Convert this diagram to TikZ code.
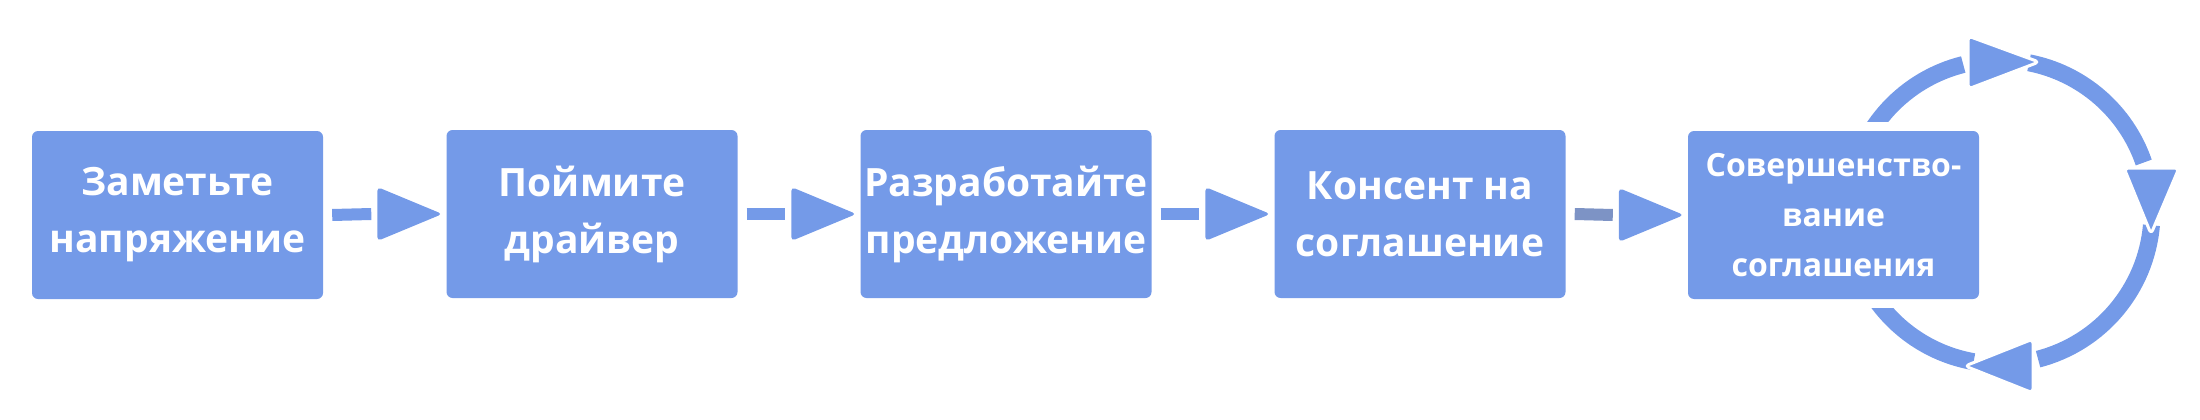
\documentclass[tikz,border=0pt]{standalone}
\usepackage{fontspec}
\setmainfont{Open Sans}
\usetikzlibrary{backgrounds,calc}
\definecolor{boxblue}{RGB}{116,154,232}
\definecolor{linegray}{RGB}{125,147,197}
\tikzset{
  stepbox/.style={fill=boxblue, rounded corners=6pt, minimum width=291pt,
    minimum height=168pt, inner sep=0pt, text=white, align=center,
    font=\bfseries\fontsize{39}{57}\selectfont},
  smallbox/.style={stepbox, font=\bfseries\fontsize{32}{50}\selectfont},
  connline/.style={draw=boxblue, line width=12pt},
  conntip/.style={fill=boxblue, rounded corners=4pt},
  ring/.style={draw=boxblue, line width=17pt},
  ringtip/.style={fill=boxblue, draw=white, line width=3pt, rounded corners=4pt, line join=round},
}
\begin{document}
\begin{tikzpicture}[x=1pt,y=-1pt]
\useasboundingbox (0,0) rectangle (2200,420);
\node[stepbox] (b1) at (177.5,215) {Заметьте\\напряжение};
\node[stepbox] (b2) at (592,214) {Поймите\\драйвер};
\node[stepbox] (b3) at (1006,214) {Разработайте\\предложение};
\node[stepbox] (b4) at (1420,214) {Консент на\\соглашение};
\node[smallbox] (b5) at (1833.5,215) {Совершенство-\\вание\\соглашения};
% straight connectors
\foreach \a/\b/\c in {b1/b2/boxblue,b2/b3/boxblue,b3/b4/boxblue,b4/b5/linegray}{
  \draw[connline, draw=\c] ([xshift=9pt]\a.east) -- ([xshift=-75pt]\b.west);
  \fill[conntip] ([xshift=-69pt,yshift=27pt]\b.west) -- ([xshift=-69pt,yshift=-27pt]\b.west)
     -- ([xshift=-4pt]\b.west) -- cycle;
}
% cycle around last box
\coordinate (cc) at (2000,212);
\begin{pgfonlayer}{background}
  \draw[ring] ($(cc)+(-79:152)$) arc[start angle=-79, end angle=-19, radius=152];
  \draw[ring] ($(cc)+(5:152)$) arc[start angle=5, end angle=75.5, radius=152];
  \draw[ring] ($(cc)+(100:152)$) arc[start angle=100, end angle=256, radius=152];
  \fill[white] ([yshift=9pt]b5.north west) rectangle ([yshift=-9pt]b5.south east);
\end{pgfonlayer}
\filldraw[ringtip] ($(cc)+(-32,-176)$) -- ($(cc)+(-32,-123)$) -- ($(cc)+(39,-150)$) -- cycle;
\filldraw[ringtip] ($(cc)+(179,-44)$) -- ($(cc)+(124,-44)$) -- ($(cc)+(151,22)$) -- cycle;
\filldraw[ringtip] ($(cc)+(33,181)$) -- ($(cc)+(33,127)$) -- ($(cc)+(-35,154)$) -- cycle;
\end{tikzpicture}
\end{document}
